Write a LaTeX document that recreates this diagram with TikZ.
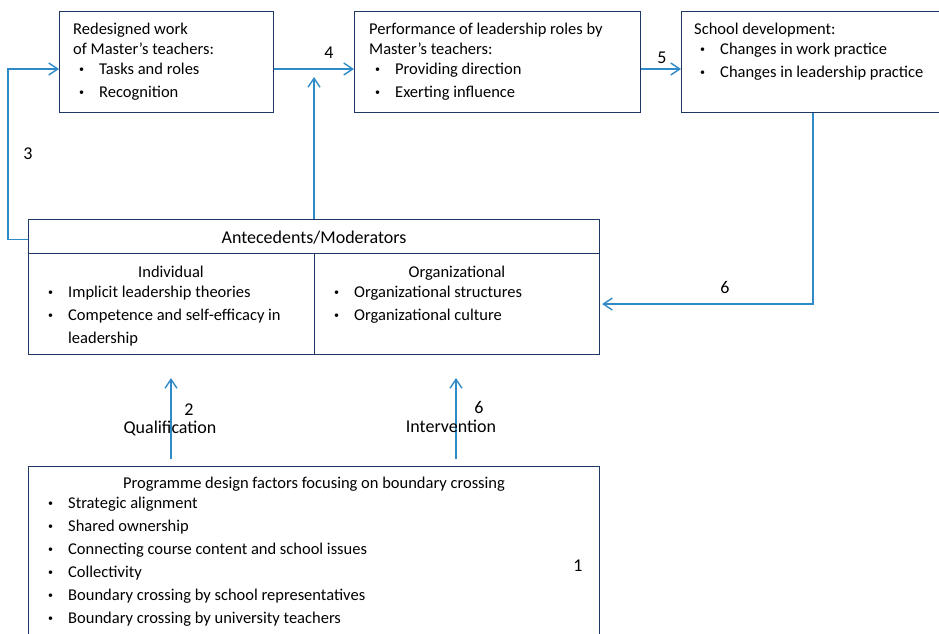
\documentclass[tikz,border=0pt]{standalone}
\usepackage{fontspec}
\setmainfont{Carlito}
\usetikzlibrary{arrows.meta}
\definecolor{boxblue}{RGB}{32,56,100}
\definecolor{flowblue}{RGB}{46,139,200}
\newcommand\itm[1]{\makebox[26pt][l]{\hspace{6pt}\raisebox{2pt}{\fontsize{10}{10}\selectfont\textbullet}}#1}

\begin{document}
\begin{tikzpicture}[x=1pt, y=-1pt,
    font=\fontsize{16.5}{20}\selectfont,
    box/.style={draw=boxblue, line width=1.1pt, anchor=north west, inner sep=0pt},
    txt/.style={anchor=north west, inner sep=0pt, align=left},
    lbl/.style={anchor=base, inner sep=0pt, font=\fontsize{18}{20}\selectfont},
    flow/.style={draw=flowblue, line width=1.4pt, -{Straight Barb[length=9pt,width=12pt]}}]
	\useasboundingbox (0,0) rectangle (939,633);
	% top row
	\node[box, minimum width=214, minimum height=101] (redesign) at (59,11) {};
	\node[box, minimum width=286, minimum height=101] (perform) at (354,11) {};
	\node[box, minimum width=270, minimum height=101] (school) at (681,11) {};
	\node[txt] (redesigntxt) at (73,20) {\strut Redesigned work\\ of Master's teachers:\\ \itm{Tasks and roles}\\[3pt] \itm{Recognition}};
	\node[txt] (performtxt) at (369,20) {\strut Performance of leadership roles by\\ Master's teachers:\\ \itm{Providing direction}\\[3pt] \itm{Exerting influence}};
	\node[txt] (schooltxt) at (694,20) {\strut School development:\\ \itm{Changes in work practice}\\[3pt] \itm{Changes in leadership practice}};
	% antecedents
	\node[box, minimum width=571, minimum height=34] (antehead) at (28,219) {};
	\node[box, minimum width=286, minimum height=101] (indiv) at (28,253) {};
	\node[box, minimum width=285, minimum height=101] (organ) at (314,253) {};
	\node[lbl] (antetitle) at (314,243) {Antecedents/Moderators};
	\node[lbl, font=\fontsize{16.5}{20}\selectfont] (indivtitle) at (171,277) {Individual};
	\node[lbl, font=\fontsize{16.5}{20}\selectfont] (organtitle) at (457,277) {Organizational};
	\node[txt] (indivlist) at (42,283) {\strut\itm{Implicit leadership theories}\\[3pt] \itm{Competence and self-efficacy in}\\[3pt] \hspace*{26pt}leadership};
	\node[txt] (organlist) at (328,283) {\strut\itm{Organizational structures}\\[3pt] \itm{Organizational culture}};
	% programme design
	\node[box, minimum width=571, minimum height=200] (design) at (28,466) {};
	\node[lbl, font=\fontsize{16.5}{20}\selectfont] (designtitle) at (314,488) {Programme design factors focusing on boundary crossing};
	\node[txt] (designlist) at (42,494) {\strut\itm{Strategic alignment}\\[3pt] \itm{Shared ownership}\\[3pt] \itm{Connecting course content and school issues}\\[3pt] \itm{Collectivity}\\[3pt] \itm{Boundary crossing by school representatives}\\[3pt] \itm{Boundary crossing by university teachers}};
	\node[lbl] (lbl1) at (578,571) {1};
	% connectors
	\coordinate (row) at (0,69);
	\coordinate (tip4) at (314,77);
	\coordinate (qualfoot) at (171,459);
	\coordinate (qualtip) at (171,378);
	\coordinate (intfoot) at (456,459);
	\coordinate (inttip) at (456,378);
	\draw[flow] ([yshift=-3pt]antehead.west) -- ++(-20,0) |- (redesign.west |- row);
	\draw[flow] (redesign.east |- row) -- (perform.west |- row);
	\draw[flow] (antehead.north) -- (antehead.north |- tip4);
	\draw[flow] (perform.east |- row) -- (school.west |- row);
	\draw[flow] ([xshift=132pt]school.south west) |- ([xshift=2pt]organ.east);
	\draw[flow] (qualfoot) -- (qualtip);
	\draw[flow] (intfoot) -- (inttip);
	\node[lbl] (lbl3) at (28,159) {3};
	\node[lbl] (lbl4) at (329,58) {4};
	\node[lbl] (lbl5) at (662,63) {5};
	\node[lbl] (lbl6a) at (725,293) {6};
	\node[lbl] (lbl2) at (189,415) {2};
	\node[lbl] (qualtxt) at (170,433) {Qualification};
	\node[lbl] (lbl6b) at (479,413) {6};
	\node[lbl] (inttxt) at (451,432) {Intervention};
\end{tikzpicture}
\end{document}
